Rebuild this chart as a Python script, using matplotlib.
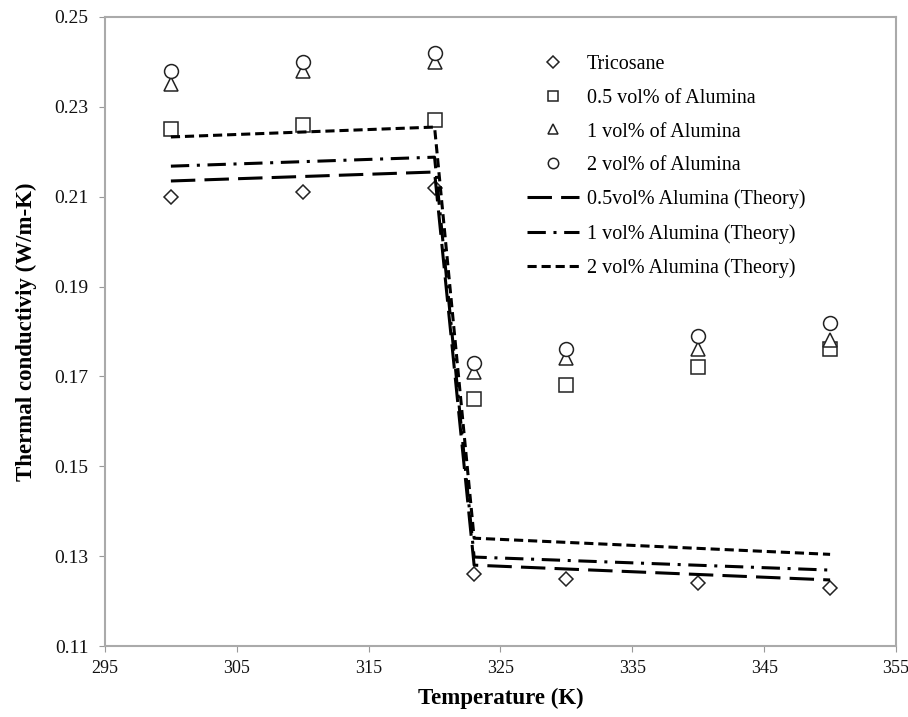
import numpy as np
import matplotlib.pyplot as plt

plt.rcParams['font.family'] = ['Liberation Serif', 'DejaVu Serif']

# measured data (K, W/m-K)
temp = [300, 310, 320, 323, 330, 340, 350]
tricosane = [0.210, 0.211, 0.212, 0.126, 0.125, 0.124, 0.123]
alumina_05 = [0.225, 0.226, 0.227, 0.165, 0.168, 0.172, 0.176]
alumina_1 = [0.235, 0.238, 0.240, 0.171, 0.174, 0.176, 0.178]
alumina_2 = [0.238, 0.240, 0.242, 0.173, 0.176, 0.179, 0.182]

# theory curves
theory_x = [300, 320, 323, 350]
theory_05 = [0.2135, 0.2155, 0.1280, 0.1247]
theory_1 = [0.2168, 0.2188, 0.1298, 0.1269]
theory_2 = [0.2233, 0.2255, 0.1340, 0.1304]

fig = plt.figure(figsize=(9.08, 7.17), dpi=100)
ax = fig.add_axes([0.1156, 0.099, 0.8712, 0.8773])

mk = dict(linestyle='none', markerfacecolor='white', markeredgecolor='#222222',
          markeredgewidth=1.1)
ax.plot(temp, tricosane, marker='D', markersize=7.5, label='Tricosane', **mk)
ax.plot(temp, alumina_05, marker='s', markersize=10, label='0.5 vol% of Alumina', **mk)
ax.plot(temp, alumina_1, marker='^', markersize=10, label='1 vol% of Alumina', **mk)
ax.plot(temp, alumina_2, marker='o', markersize=10, label='2 vol% of Alumina', **mk)

ax.plot(theory_x, theory_05, color='black', lw=2.2, dashes=(8, 3),
        label='0.5vol% Alumina (Theory)')
ax.plot(theory_x, theory_1, color='black', lw=2.2, dashes=(6, 2.5, 1, 2.5),
        label='1 vol% Alumina (Theory)')
ax.plot(theory_x, theory_2, color='black', lw=2.2, dashes=(3, 1.6),
        label='2 vol% Alumina (Theory)')

ax.set_xlim(295, 355)
ax.set_ylim(0.11, 0.25)
ax.set_xticks(np.arange(295, 356, 10))
ax.set_yticks(np.arange(0.11, 0.251, 0.02))
ax.set_yticklabels([f'{v:.2f}' for v in np.arange(0.11, 0.251, 0.02)])
ax.tick_params(direction='out', length=4, color='#999999', labelcolor='#111111')
ax.tick_params(axis='y', pad=8, labelsize=14)
ax.tick_params(axis='x', pad=6, labelsize=13)
for sp in ax.spines.values():
    sp.set_color('#aaaaaa')
    sp.set_linewidth(1.5)

ax.set_xlabel('Temperature (K)', fontsize=16.5, fontweight='bold', labelpad=8)
ax.set_ylabel('Thermal conductiviy (W/m-K)', fontsize=16.5, fontweight='bold', labelpad=12)

ax.legend(loc='upper left', bbox_to_anchor=(0.51, 0.968), frameon=False,
          fontsize=14.5, handlelength=2.6, labelspacing=0.72, handletextpad=0.4,
          markerscale=0.75)

fig.savefig('out.png', dpi=100)
